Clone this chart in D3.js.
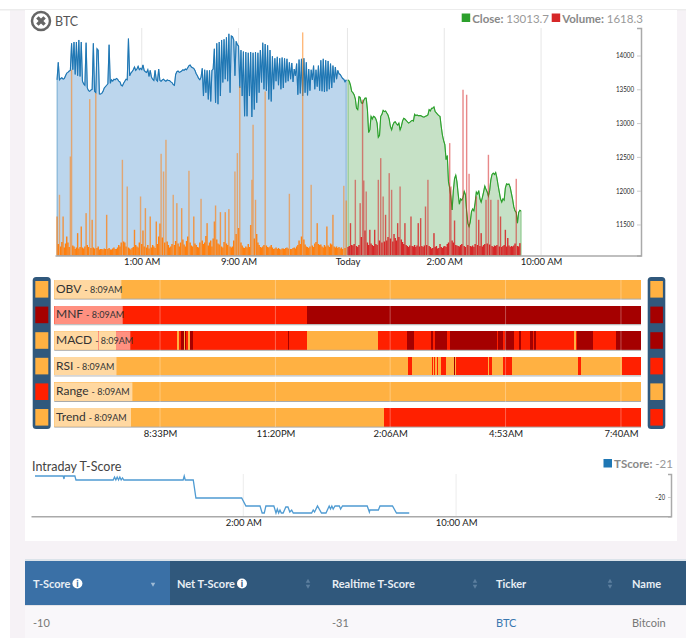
<!DOCTYPE html>
<html>
<head>
<meta charset="utf-8">
<script src="https://cdn.jsdelivr.net/npm/d3@7"></script>
<style>
body { margin: 0; background: #fff; font-family: Lato, sans-serif; }
svg { display: block; }
</style>
</head>
<body>
<svg width="686" height="638"></svg>
<script>
// readings sampled every 0.1h, prev session then today
var prevClose = [
13640,13900,13640,13660,13670,13650,13660,13700,13740,13750,
13770,13780,14180,13790,14200,13720,14200,13700,14230,13690,
14200,13620,13580,13560,14190,13520,13480,13470,13490,13500,
14180,13470,13450,14100,14080,13430,13430,13440,13470,13520,
13540,13560,13580,14160,13590,13640,13620,13650,13640,13660,
13650,13620,13610,13560,13550,13590,13620,13650,13640,14250,
13700,13740,13760,13790,13830,13780,13800,13840,13790,13810,
13790,13860,13780,13760,13750,13790,13690,13780,13680,13650,
13630,13780,13640,13620,13800,13630,13620,13640,13650,13630,
13620,13640,13630,13630,13610,13600,13570,13560,13720,13760,
13770,13750,13760,13770,13790,13780,13800,13790,13820,13850,
13860,13830,13820,13810,13780,13730,13700,13660,13640,13680,
13810,13400,13790,13450,13780,13350,13780,13320,13780,13800,
14100,13300,14180,13280,14200,13400,14230,13600,14240,13650,
14270,13620,14320,13450,14290,14280,14230,13700,14210,14160,
14140,13520,14080,13400,14060,13100,14050,13100,14040,13400,
14050,13090,14040,13200,14050,13300,14040,13450,14080,13600,
14190,13500,14170,13480,14150,13350,14080,13320,13990,13500,
13960,13620,13980,13560,13960,13500,13970,13520,13960,13600,
13950,13620,13900,13650,13890,13610,13800,13700,13880,13420,
13940,13440,13950,13400,13960,13450,13900,13410,13800,13480,
13790,13640,13850,13500,13790,13540,13850,13480,13930,13470,
13950,13460,13930,13470,13920,13500,13880,13520,13850,13600,
13830,13650,13780,13730,13720,13690,13660,13650,13610,13640
];
var todayClose = [
13640,13620,13560,13470,13450,13420,13360,13220,13200,13390,
13380,13300,13290,13340,13370,13370,13200,12860,12900,13100,
13060,13100,13090,13060,13000,12790,12820,13100,13130,13190,
13170,13180,13150,13120,13060,12950,12900,12970,13010,13020,
12990,12970,13000,12900,12950,13030,13070,13060,13040,13020,
13000,13010,13030,13040,13030,13130,13110,13120,13110,13110,
13110,13100,13090,13090,13100,13110,13120,13200,13180,13220,
13220,13240,13170,13150,13130,13110,13100,12950,12820,12740,
12680,12460,12520,12130,12040,11900,11715,12000,12180,12230,
12130,11950,11800,11880,11860,11900,11990,11940,11700,11520,
11470,11540,11690,11730,11700,11820,11980,11950,12000,11880,
11830,11900,11980,12070,12020,11980,11920,12000,12160,12240,
12260,12240,12270,12190,12080,11980,11880,11830,11880,11860,
12040,12100,12090,12100,12050,11960,11870,11760,11700,11680,
11520,11680,11710,11700
];
var prevVolume = [
780,230,1214,180,270,780,160,240,380,260,
170,1980,3715,200,180,130,160,447,140,170,
580,160,140,180,847,210,170,3128,150,714,
160,140,3248,150,180,120,130,130,120,140,
130,814,130,150,120,120,140,160,130,130,
160,210,180,260,1914,280,260,180,1380,160,
140,120,150,170,514,210,180,160,260,1180,
230,500,180,947,160,210,140,780,160,210,
180,150,680,230,380,640,2034,360,1680,260,
2314,280,210,160,180,230,1214,210,290,1047,
240,180,260,947,320,220,180,290,380,1694,
260,200,180,780,240,210,170,160,260,1134,
300,230,260,390,647,200,260,300,180,340,
680,1000,320,240,220,867,180,160,270,867,
240,210,927,180,160,180,300,1680,430,2048,
550,3382,260,200,160,150,180,160,230,170,
610,1514,2615,340,1114,430,260,210,170,160,
180,210,3282,200,170,160,180,210,160,130,
140,160,130,150,130,120,140,140,130,150,
160,140,1234,130,130,150,160,140,180,210,
300,230,380,4462,320,220,180,170,150,180,
1414,200,170,240,270,647,230,210,220,180,
160,210,180,580,200,170,240,220,814,180,
160,180,150,170,140,160,130,1394,150,1100
];
var todayVolume = [
170,190,647,210,200,230,1514,190,170,210,
1047,370,3115,1500,500,1280,260,210,514,240,
210,190,514,230,210,1514,300,1947,260,1180,
280,814,300,370,1647,340,1314,280,430,350,
300,647,370,1380,320,270,230,647,210,190,
170,200,780,190,180,210,170,200,647,180,
747,190,170,200,980,210,1514,190,170,140,
150,447,170,190,140,150,230,170,150,180,
190,170,230,260,2248,1380,300,260,700,210,
200,190,180,210,230,3315,190,170,3215,210,
1634,190,180,200,170,230,1180,210,714,190,
447,180,210,230,1114,240,2014,220,1114,190,
170,200,190,210,1114,180,780,170,190,210,
514,180,350,200,170,190,180,200,240,1534,
190,180,247
];
var mainTickHours = [7, 15, 24, 32, 40];
var mainTickLabels = ["1:00 AM", "9:00 AM", "Today", "2:00 AM", "10:00 AM"];
var priceTicks = [11500, 12000, 12500, 13000, 13500, 14000];

// signal strips: minutes since 6pm at which each run ends, and its state
var stripNames = ["OBV", "MNF", "MACD", "RSI", "Range", "Trend"];
var stripLabelEnds = [97, 99, 110, 90, 113, 111];
var stripEnds = [
  [849],
  [365, 849],
  [63, 64, 90, 177, 181, 184, 187, 189, 191, 194, 196, 200, 338, 340, 365, 469, 510, 520.5, 544.6, 548, 551, 568, 572.6, 640, 642, 650, 652, 665, 672, 676, 689, 692, 693.6, 697, 752, 755, 757, 780, 813, 849],
  [512.3, 518, 546, 548, 549.5, 551.5, 553.5, 555.5, 559, 567, 578.4, 580.5, 581.5, 583.7, 628, 629.5, 633, 647.4, 649.8, 661.8, 758.3, 761.7, 821, 849],
  [849],
  [477, 849]
];
var stripStates = [
  [0],
  [1, 2],
  [0, 1, 0, 1, 0, 1, 2, 0, 2, 1, 0, 2, 1, 2, 1, 0, 1, 2, 1, 2, 1, 2, 1, 2, 1, 2, 1, 2, 1, 2, 1, 2, 1, 2, 1, 0, 1, 2, 1, 2],
  [0, 1, 0, 1, 0, 1, 0, 1, 0, 1, 0, 2, 0, 1, 1, 0, 1, 0, 0, 1, 0, 1, 0, 1],
  [0],
  [0, 1]
];
var leftStates = [0, 2, 0, 0, 1, 0];
var rightStates = [0, 2, 2, 1, 0, 1];
var stripTickMinutes = [153, 320, 486, 653, 820];
var stripTickLabels = ["8:33PM", "11:20PM", "2:06AM", "4:53AM", "7:40AM"];
var stateColors = ["#ffb142", "#ff2000", "#a50000"];

// intraday t-score, hours from 2am
var scoreHours = [-7.83,-6.77,-6.74,-6.72,-6.33,-6.29,-4.89,-4.84,-4.79,-4.74,-4.69,-4.64,-4.59,-4.54,-4.49,-2.26,-2.22,-2.18,-1.88,-1.78,-0.06,0.10,0.63,0.71,0.79,0.85,1.15,1.23,1.28,1.33,1.38,1.43,1.50,1.60,1.68,1.75,1.82,1.88,2.57,2.63,2.68,2.79,2.94,3.11,3.23,3.28,3.33,3.38,3.45,3.61,3.66,3.73,4.66,4.74,4.76,5.08,5.14,5.61,5.76,6.24];
var scoreValues = [-9.5,-9.5,-11,-9.5,-9.5,-11.5,-11.5,-10,-11.5,-10,-11.5,-10,-11.5,-10.5,-11.5,-11.5,-9.5,-11.5,-11.5,-20.5,-20.5,-24.5,-24.5,-28,-28,-24.5,-24.5,-28,-26,-28,-26.5,-28,-28,-25,-25,-27.5,-26.5,-28,-28,-26.5,-27.5,-24.5,-28,-28,-24.5,-26,-24.5,-26,-24.5,-24.5,-26,-24.5,-24.5,-27.5,-26.5,-26.5,-24.5,-24.5,-28,-28];
var scoreTickHours = [0, 8];
var scoreTickLabels = ["2:00 AM", "10:00 AM"];

var tableHeaders = ["T-Score", "Net T-Score", "Realtime T-Score", "Ticker", "Name"];
var tableRow = ["-10", "", "-31", "BTC", "Bitcoin"];

var svg = d3.select("svg");

// page background and cards
svg.append("rect").attr("x", 10).attr("y", 10).attr("width", 676).attr("height", 628).attr("fill", "#f6f2f6");
svg.append("rect").attr("x", 0).attr("y", 9).attr("width", 686).attr("height", 1.5).attr("fill", "#ececec");
svg.append("rect").attr("x", 25).attr("y", 10).attr("width", 652).attr("height", 531).attr("fill", "#fff");

// main chart
var x = d3.scaleLinear().domain([-0.17, 48.26]).range([55, 641]);
var yPrice = d3.scaleLinear().domain([11041, 14407]).range([255.5, 28]);
var yVol = d3.scaleLinear().domain([0, 4550]).range([255.5, 28]);
var volOpacity = d3.scaleLinear().domain([300, 1200]).range([1, 0.55]).clamp(true);

svg.selectAll(".mainGrid").data(mainTickHours).enter().append("line")
    .attr("class", "mainGrid")
    .attr("x1", function(d) { return x(d); })
    .attr("x2", function(d) { return x(d); })
    .attr("y1", 28).attr("y2", 255)
    .attr("stroke", "#e6e6e6");

function drawClose(values, start, fill, stroke) {
    var hourOf = function(i) { return start + i * 0.1; };
    var area = d3.area()
        .x(function(d, i) { return x(hourOf(i)); })
        .y0(255.5)
        .y1(function(d) { return yPrice(d); });
    var line = d3.line()
        .x(function(d, i) { return x(hourOf(i)); })
        .y(function(d) { return yPrice(d); });
    svg.append("path").attr("d", area(values)).attr("fill", fill).attr("stroke", stroke).attr("stroke-opacity", 0.5);
    svg.append("path").attr("d", line(values)).attr("fill", "none").attr("stroke", stroke).attr("stroke-width", 1.1);
}

function drawVolume(values, start, color) {
    svg.append("g").selectAll("rect").data(values).enter().append("rect")
        .attr("x", function(d, i) { return x(start + i * 0.1) - 0.7; })
        .attr("width", 1.4)
        .attr("y", function(d) { return yVol(d); })
        .attr("height", function(d) { return 255.5 - yVol(d); })
        .attr("fill", color)
        .attr("opacity", function(d) { return volOpacity(d); });
}

drawClose(prevClose, 0, "#bcd6ed", "#1f77b4");
drawClose(todayClose, 24.05, "#c6e1c6", "#2ca02c");
drawVolume(prevVolume, 0, "#ff7f0e");
drawVolume(todayVolume, 24.05, "#d62728");

svg.append("g")
    .attr("transform", "translate(0,255.5)")
    .call(d3.axisBottom(x).tickValues(mainTickHours).tickSize(0).tickPadding(3)
        .tickFormat(function(d, i) { return mainTickLabels[i]; }))
    .call(styleAxis, 9.5);

svg.append("g")
    .attr("transform", "translate(641,0)")
    .call(d3.axisLeft(yPrice).tickValues(priceTicks).tickSize(4).tickPadding(3).tickFormat(d3.format("d")))
    .call(styleAxis, 7.5)
    .selectAll("text").attr("textLength", 18).attr("lengthAdjust", "spacingAndGlyphs");

function styleAxis(g, size) {
    g.select(".domain").attr("stroke", "#aaa").attr("stroke-width", 1.5);
    g.selectAll(".tick line").attr("stroke", "#ccc");
    g.selectAll("text").attr("font-family", "Lato").attr("font-size", size).attr("fill", "#222");
}

function legendItem(px, py, color, label, value) {
    svg.append("rect").attr("x", px).attr("y", py).attr("width", 8.5).attr("height", 8.5).attr("fill", color);
    var t = svg.append("text").attr("x", px + 10.5).attr("y", py + 9).attr("font-size", 11.5).attr("fill", "#888");
    t.append("tspan").attr("font-weight", 700).text(label + " ");
    t.append("tspan").attr("fill", "#999").text(value);
}
legendItem(461.7, 13.5, "#2ca02c", "Close:", "13013.7");
legendItem(551.7, 13.5, "#d62728", "Volume:", "1618.3");

// BTC badge
svg.append("circle").attr("cx", 41).attr("cy", 21).attr("r", 9).attr("fill", "#fff").attr("stroke", "#666").attr("stroke-width", 2.5);
svg.append("path")
    .attr("transform", "translate(41,21) rotate(45)")
    .attr("d", d3.symbol().type(d3.symbolCross).size(58)())
    .attr("fill", "#666");
svg.append("text").attr("x", 55).attr("y", 25.5).attr("font-size", 12.5).attr("fill", "#555").text("BTC");

// signal strips
var xStrip = d3.scaleLinear().domain([0, 849]).range([54.3, 641]);
var bandTop = function(name) { return 280 + stripNames.indexOf(name) * 25.6; };

stripNames.forEach(function(name, r) {
    var top = bandTop(name);
    var runs = stripEnds[r].map(function(end, i) {
        return { start: i ? stripEnds[r][i - 1] : 0, end: end, state: stripStates[r][i] };
    });
    svg.append("g").attr("shape-rendering", "crispEdges").selectAll("rect").data(runs).enter().append("rect")
        .attr("x", function(d) { return xStrip(d.start); })
        .attr("width", function(d) { return xStrip(d.end) - xStrip(d.start); })
        .attr("y", top)
        .attr("height", 18.6)
        .attr("fill", function(d) { return stateColors[d.state]; });
    svg.append("rect")
        .attr("x", xStrip(0)).attr("y", top + 18.6)
        .attr("width", xStrip(849) - xStrip(0)).attr("height", 1)
        .attr("fill", "#aaa");
    svg.append("rect")
        .attr("x", xStrip(0)).attr("y", top)
        .attr("width", xStrip(stripLabelEnds[r]) - xStrip(0)).attr("height", 18.6)
        .attr("fill", "#fff").attr("opacity", 0.5);
    var label = svg.append("text").attr("x", 56).attr("y", top + 12.8).attr("fill", "#333").attr("font-size", 12);
    label.append("tspan").text(name);
    label.append("tspan").attr("font-size", 9).attr("dx", 3).text("- 8:09AM");
});

svg.selectAll(".stripGrid").data(stripTickMinutes).enter().append("line")
    .attr("class", "stripGrid")
    .attr("x1", function(d) { return xStrip(d); })
    .attr("x2", function(d) { return xStrip(d); })
    .attr("y1", 280).attr("y2", 427)
    .attr("stroke", "#fff").attr("stroke-opacity", 0.3);

svg.append("g")
    .attr("transform", "translate(0,427)")
    .call(d3.axisBottom(xStrip).tickValues(stripTickMinutes).tickSize(0).tickPadding(3)
        .tickFormat(function(d, i) { return stripTickLabels[i]; }))
    .call(styleAxis, 9.5)
    .select(".domain").remove();

function sideColumn(px, pw, states) {
    svg.append("rect").attr("x", px).attr("y", 277).attr("width", pw).attr("height", 152)
        .attr("rx", 3.5).attr("fill", "#30587c");
    svg.append("g").selectAll("rect").data(states).enter().append("rect")
        .attr("x", px + 2.6)
        .attr("y", function(d, i) { return 281 + i * 25.6; })
        .attr("width", pw - 5)
        .attr("height", 16.6)
        .attr("fill", function(d) { return stateColors[d]; });
}
sideColumn(32.7, 18, leftStates);
sideColumn(647.7, 17.6, rightStates);

// intraday t-score
var xScore = d3.scaleLinear().domain([-7.98, 16.08]).range([31, 671]);
var yScore = d3.scaleLinear().domain([-29.65, -8.5]).range([516.3, 474]);

svg.selectAll(".scoreGrid").data(scoreTickHours).enter().append("line")
    .attr("class", "scoreGrid")
    .attr("x1", function(d) { return xScore(d); })
    .attr("x2", function(d) { return xScore(d); })
    .attr("y1", 474).attr("y2", 516)
    .attr("stroke", "#ececec");

var scoreLine = d3.line()
    .x(function(d, i) { return xScore(scoreHours[i]); })
    .y(function(d) { return yScore(d); });
svg.append("path").attr("d", scoreLine(scoreValues))
    .attr("fill", "none").attr("stroke", "#4f9bd2").attr("stroke-width", 1.3);

svg.append("g")
    .attr("transform", "translate(0,516.3)")
    .call(d3.axisBottom(xScore).tickValues(scoreTickHours).tickSize(0).tickPadding(3)
        .tickFormat(function(d, i) { return scoreTickLabels[i]; }))
    .call(styleAxis, 9.5);
svg.append("g")
    .attr("transform", "translate(671,0)")
    .call(d3.axisLeft(yScore).tickValues([-20]).tickSize(3).tickPadding(3).tickFormat(d3.format("d")))
    .call(styleAxis, 7.5)
    .selectAll("text").attr("textLength", 10).attr("lengthAdjust", "spacingAndGlyphs");

svg.append("text").attr("x", 32).attr("y", 471).attr("font-size", 12.5).attr("fill", "#444").text("Intraday T-Score");
legendItem(603.5, 459, "#1f77b4", "TScore:", "-21");

// table
var colX = [33, 177, 332, 496, 632];
var colEdge = [25, 170, 325, 489, 625, 686];
var arrowX = [153, 308, 475, 610];

svg.append("rect").attr("x", 25).attr("y", 559).attr("width", 661).attr("height", 2).attr("fill", "#dbe3ea");
svg.append("g").selectAll("rect").data(tableHeaders).enter().append("rect")
    .attr("x", function(d, i) { return colEdge[i]; })
    .attr("y", 561)
    .attr("width", function(d, i) { return colEdge[i + 1] - colEdge[i]; })
    .attr("height", 44)
    .attr("fill", function(d, i) { return i == 0 ? "#3a70a6" : "#30587c"; });

var heads = svg.append("g").selectAll("text").data(tableHeaders).enter().append("text")
    .attr("x", function(d, i) { return colX[i]; })
    .attr("y", 587.5)
    .attr("font-size", 11)
    .attr("font-weight", 700)
    .attr("fill", "#e8eef4")
    .text(function(d) { return d; });

heads.each(function(d, i) {
    if (i > 1) return;
    var w = this.getComputedTextLength();
    var cx = colX[i] + w + 7;
    svg.append("circle").attr("cx", cx).attr("cy", 583.5).attr("r", 5).attr("fill", "#fff");
    svg.append("text").attr("x", cx).attr("y", 587).attr("text-anchor", "middle")
        .attr("font-size", 9).attr("font-weight", 900).attr("fill", i == 0 ? "#3a70a6" : "#30587c").text("i");
});

arrowX.forEach(function(ax, i) {
    var up = d3.symbol().type(d3.symbolTriangle).size(9)();
    if (i == 0) {
        svg.append("path").attr("transform", "translate(" + ax + ",584) rotate(180)").attr("d", up).attr("fill", "#9fbbd6");
    } else {
        svg.append("path").attr("transform", "translate(" + ax + ",581.5)").attr("d", up).attr("fill", "#5c7f9f");
        svg.append("path").attr("transform", "translate(" + ax + ",586) rotate(180)").attr("d", up).attr("fill", "#5c7f9f");
    }
});

svg.append("rect").attr("x", 25).attr("y", 605).attr("width", 661).attr("height", 33).attr("fill", "#f9f7fa");
svg.append("rect").attr("x", 25).attr("y", 605).attr("width", 661).attr("height", 1).attr("fill", "#e4e4e8");
svg.append("g").selectAll("text").data(tableRow).enter().append("text")
    .attr("x", function(d, i) { return colX[i]; })
    .attr("y", 626.5)
    .attr("font-size", 11)
    .attr("fill", function(d, i) { return i == 3 ? "#3b78b0" : "#777"; })
    .text(function(d) { return d; });
</script>
</body>
</html>
